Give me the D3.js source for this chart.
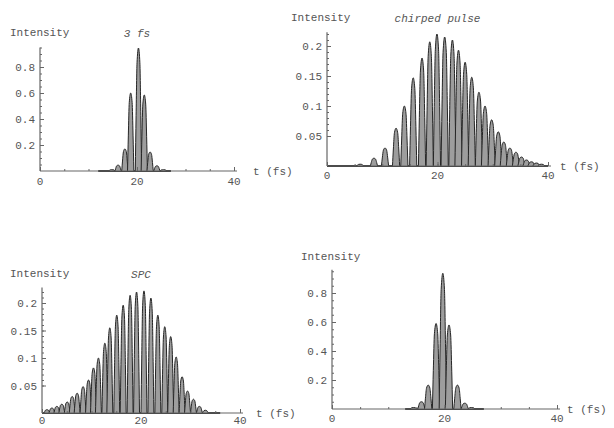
<!DOCTYPE html>
<html>
<head>
<meta charset="utf-8">
<script src="https://cdn.jsdelivr.net/npm/d3@7"></script>
<style>
  body { margin: 0; background: #fff; }
  svg text { font-family: "Liberation Mono", "DejaVu Sans Mono", monospace; fill: #555; }
</style>
</head>
<body>
<div class="chartContainer"></div>
<script>
// Fringe peaks: time (fs) and intensity
var pulse3fsT = [14.8, 16.1, 17.5, 18.7, 20.3, 21.5, 22.7, 24.1, 25.5];
var pulse3fsI = [0.01, 0.045, 0.17, 0.6, 0.946, 0.585, 0.146, 0.04, 0.01];

var chirpedT = [6.0, 8.5, 10.5, 12.5, 14.0, 15.6, 17.2, 18.6, 19.9, 21.3, 22.7, 23.8, 25.0,
  26.2, 27.5, 28.6, 29.8, 31.0, 32.0, 33.1, 34.2, 35.2, 36.1, 37.0, 37.9, 38.8];
var chirpedI = [0.003, 0.013, 0.03, 0.063, 0.1, 0.147, 0.18, 0.207, 0.22, 0.215, 0.21, 0.193, 0.173,
  0.148, 0.123, 0.1, 0.077, 0.057, 0.04, 0.03, 0.023, 0.015, 0.01, 0.007, 0.005, 0.003];

var spcT = [1, 2, 3, 4, 5.1, 6.1, 7.1, 8.3, 9.4, 10.4, 11.4, 12.7, 13.7, 15.1, 16.4, 17.8, 19.1,
  20.6, 22.0, 23.4, 24.8, 26.0, 27.1, 28.3, 29.4, 30.6, 31.8, 33.0];
var spcI = [0.006, 0.009, 0.012, 0.016, 0.02, 0.03, 0.036, 0.048, 0.06, 0.082, 0.1, 0.127, 0.155,
  0.178, 0.196, 0.214, 0.22, 0.222, 0.209, 0.178, 0.157, 0.139, 0.102, 0.066, 0.04, 0.025, 0.012, 0.005];

var compressedT = [14.5, 15.9, 17.1, 18.5, 19.7, 20.8, 22.3, 23.6, 24.8];
var compressedI = [0.01, 0.05, 0.165, 0.59, 0.936, 0.58, 0.165, 0.04, 0.01];

var xTicks = [0, 20, 40];
var yTicksBig = [0.2, 0.4, 0.6, 0.8];
var yTicksSmall = [0.05, 0.1, 0.15, 0.2];

const W = 614;
const H = 428;

const svg = d3.select(".chartContainer").append("svg")
  .attr("width", W).attr("height", H);

// shape of one fringe, relative to its half width and height
var lobe = [[-1, 0], [-0.75, 0.45], [-0.45, 0.88], [0, 1], [0.45, 0.88], [0.75, 0.45], [1, 0]];

function drawPanel(p, ts, vals) {
  var x = d3.scaleLinear().domain([0, 40]).range([p.x0, p.x1]);
  var y = d3.scaleLinear().domain([0, 1]).range([p.y0, p.y0 - p.unit]);
  var g = svg.append("g");

  // baseline trace
  g.append("line")
    .attr("x1", x(p.flat[0])).attr("x2", x(p.flat[1]))
    .attr("y1", y(0)).attr("y2", y(0))
    .attr("stroke", "#333").attr("stroke-width", 2);

  var line = d3.line()
    .x((d) => d[0]).y((d) => d[1])
    .curve(d3.curveMonotoneX);

  g.selectAll("path.fringe")
    .data(ts.map((t, i) => [t, vals[i]]))
    .enter()
    .append("path")
    .attr("class", "fringe")
    .attr("d", (d) => line(lobe.map((o) => [x(d[0] + o[0] * p.hw), y(d[1] * o[1])])))
    .attr("fill", "#9d9d9d")
    .attr("stroke", "#262626")
    .attr("stroke-width", 1);

  // axes
  var xAxis = d3.axisTop(x).tickValues(d3.range(0, 41, 5)).tickSize(2).tickFormat("");
  g.append("g").attr("transform", "translate(0," + y(0) + ")").call(xAxis);
  var yAxis = d3.axisRight(y).tickValues(d3.range(0.05, p.top + 0.001, p.minor)).tickSize(2).tickFormat("");
  g.append("g").attr("transform", "translate(" + x(0) + ",0)").call(yAxis);
  g.append("g").attr("transform", "translate(0," + y(0) + ")")
    .call(d3.axisTop(x).tickValues(xTicks).tickSize(4).tickFormat(""));
  g.append("g").attr("transform", "translate(" + x(0) + ",0)")
    .call(d3.axisRight(y).tickValues(p.yTicks).tickSize(4).tickFormat(""));
  g.selectAll(".domain").remove();
  g.selectAll(".tick line").attr("stroke", "#666");

  g.append("line")
    .attr("x1", x(0)).attr("x2", x(40) + 3).attr("y1", y(0)).attr("y2", y(0))
    .attr("stroke", "#666").attr("stroke-width", 1.2);
  g.append("line")
    .attr("x1", x(0)).attr("x2", x(0)).attr("y1", y(0)).attr("y2", y(p.top))
    .attr("stroke", "#666").attr("stroke-width", 1.2);

  // tick labels
  g.selectAll("text.xl").data(xTicks).enter().append("text")
    .attr("x", (d) => x(d)).attr("y", y(0) + p.xlOff)
    .attr("text-anchor", "middle").style("font-size", "11px")
    .text((d) => d);
  g.selectAll("text.yl").data(p.yTicks).enter().append("text")
    .attr("x", x(0) - 5).attr("y", (d) => y(d) + 4)
    .attr("text-anchor", "end").style("font-size", "11px")
    .text((d) => d);

  g.append("text").attr("x", x(40) + p.tOff).attr("y", y(0) + 4)
    .style("font-size", "11px").text("t (fs)");
  g.append("text").attr("x", p.labX).attr("y", p.labY)
    .style("font-size", "11px").text("Intensity");
  if (p.title) {
    g.append("text").attr("x", x(20)).attr("y", p.labY + 1)
      .attr("text-anchor", "middle").style("font-size", "11px").style("font-style", "italic")
      .text(p.title);
  }
}

drawPanel({ x0: 40, x1: 234, y0: 171, unit: 130, top: 0.95, minor: 0.05, yTicks: yTicksBig,
  hw: 0.65, flat: [12, 27], tOff: 19, xlOff: 14, labX: 10, labY: 36, title: "3 fs" }, pulse3fsT, pulse3fsI);
drawPanel({ x0: 327, x1: 548, y0: 166, unit: 600, top: 0.223, minor: 0.01, yTicks: yTicksSmall,
  hw: 0.65, flat: [0, 40], tOff: 12, xlOff: 13, labX: 291, labY: 21, title: "chirped pulse" }, chirpedT, chirpedI);
drawPanel({ x0: 42, x1: 240, y0: 413, unit: 550, top: 0.228, minor: 0.01, yTicks: yTicksSmall,
  hw: 0.6, flat: [0, 36], tOff: 16, xlOff: 11, labX: 10, labY: 277, title: "SPC" }, spcT, spcI);
drawPanel({ x0: 332, x1: 557, y0: 409, unit: 145, top: 0.96, minor: 0.05, yTicks: yTicksBig,
  hw: 0.65, flat: [13, 27], tOff: 10, xlOff: 13, labX: 301, labY: 260, title: "" }, compressedT, compressedI);
</script>
</body>
</html>
